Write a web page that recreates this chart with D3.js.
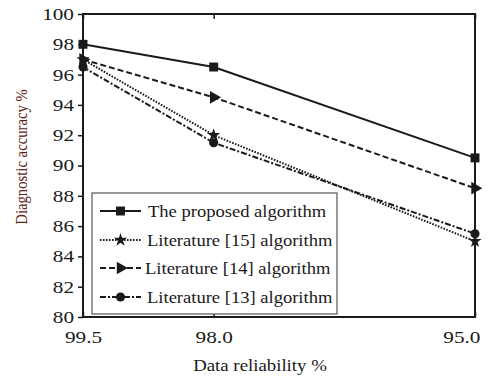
<!DOCTYPE html>
<html>
<head>
<meta charset="utf-8">
<script src="https://cdn.jsdelivr.net/npm/d3@7"></script>
<style>
  body { margin: 0; background: #fff; }
  svg text { font-family: "Liberation Serif", "DejaVu Serif", serif; fill: #1a1a1a; }
</style>
</head>
<body>
<div id="chart"></div>
<script>
const reliability = [99.5, 98.0, 95.0];
const proposed = [98, 96.5, 90.5];
const lit15 = [97, 92, 85];
const lit14 = [97, 94.5, 88.5];
const lit13 = [96.5, 91.5, 85.5];
const yTicks = [80, 82, 84, 86, 88, 90, 92, 94, 96, 98, 100];

const series = [
    { name: "The proposed algorithm", values: proposed, dash: null, symbol: d3.symbolSquare, size: 80, rot: 0, tx: 148 },
    { name: "Literature [15] algorithm", values: lit15, dash: "1.6,1.4", symbol: d3.symbolStar, size: 55, rot: 0, tx: 147 },
    { name: "Literature [14] algorithm", values: lit14, dash: "6,3", symbol: d3.symbolTriangle, size: 70, rot: 90, tx: 145 },
    { name: "Literature [13] algorithm", values: lit13, dash: "6,2,2,2", symbol: d3.symbolCircle, size: 65, rot: 0, tx: 147 }
];

const W = 494, H = 378;
const x0 = 83, x1 = 475, y0 = 317, y1 = 14;
// the reference picture is stretched sideways, so text is widened to match
const stretch = 1.2;

const svg = d3.select("#chart").append("svg")
    .attr("width", W)
    .attr("height", H);

const xScale = d3.scaleLinear().domain([99.5, 95.0]).range([x0, x1]);
const yScale = d3.scaleLinear().domain([80, 100]).range([y0, y1]);

// frame
svg.append("rect")
    .attr("x", x0).attr("y", y1)
    .attr("width", x1 - x0).attr("height", y0 - y1)
    .attr("fill", "none").attr("stroke", "#1a1a1a").attr("stroke-width", 2);

// y axis, ticks outward
const yAxis = svg.append("g")
    .attr("transform", `translate(${x0},0)`)
    .call(d3.axisLeft(yScale).tickValues(yTicks).tickSize(5).tickFormat(d3.format("d")));
yAxis.select(".domain").remove();
yAxis.selectAll("line").attr("stroke", "#1a1a1a").attr("stroke-width", 1.5);
yAxis.selectAll("text")
    .attr("x", 0)
    .attr("transform", `translate(-9,0) scale(1.25,1)`)
    .style("font-size", "17px").attr("fill", "#1a1a1a").style("font-family", "Liberation Serif");

// x axis bottom, ticks inward
const xAxis = svg.append("g")
    .attr("transform", `translate(0,${y0})`)
    .call(d3.axisBottom(xScale).tickValues(reliability).tickSize(-5).tickPadding(14).tickFormat(d3.format(".1f")));
xAxis.select(".domain").remove();
xAxis.selectAll("line").attr("stroke", "#1a1a1a").attr("stroke-width", 1.5);
xAxis.selectAll("text")
    .attr("transform", "scale(1.25,1)")
    .style("font-size", "17px").attr("fill", "#1a1a1a").style("font-family", "Liberation Serif");
xAxis.selectAll(".tick").filter(d => d === 95.0).select("text")
    .attr("text-anchor", "end").attr("x", 4);

// x axis top, ticks inward, no labels
const xTop = svg.append("g")
    .attr("transform", `translate(0,${y1})`)
    .call(d3.axisTop(xScale).tickValues(reliability).tickSize(-5).tickFormat(""));
xTop.select(".domain").remove();
xTop.selectAll("line").attr("stroke", "#1a1a1a").attr("stroke-width", 1.5);

// lines
const line = d3.line()
    .x((d, i) => xScale(reliability[i]))
    .y(d => yScale(d));

series.forEach(s => {
    svg.append("path")
        .datum(s.values)
        .attr("d", line)
        .attr("fill", "none")
        .attr("stroke", "#1a1a1a")
        .attr("stroke-width", 2)
        .attr("stroke-dasharray", s.dash);
});

series.forEach(s => {
    svg.selectAll(null)
        .data(s.values)
        .enter()
        .append("path")
        .attr("d", d3.symbol().type(s.symbol).size(s.size))
        .attr("transform", (d, i) => `translate(${xScale(reliability[i])},${yScale(d)}) rotate(${s.rot})`)
        .attr("fill", "#1a1a1a");
});

// legend
const legend = svg.append("g");
legend.append("rect")
    .attr("x", 92).attr("y", 193)
    .attr("width", 245).attr("height", 121)
    .attr("fill", "#fff").attr("stroke", "#555").attr("stroke-width", 1.2);

const rowY = [211, 240, 268, 297];
series.forEach((s, i) => {
    const g = legend.append("g").attr("transform", `translate(0,${rowY[i]})`);
    g.append("line")
        .attr("x1", 100).attr("x2", 141)
        .attr("stroke", "#1a1a1a").attr("stroke-width", 2)
        .attr("stroke-dasharray", s.dash);
    g.append("path")
        .attr("d", d3.symbol().type(s.symbol).size(s.size))
        .attr("transform", `translate(120.5,0) rotate(${s.rot})`)
        .attr("fill", "#1a1a1a");
    g.append("text")
        .attr("transform", `translate(${s.tx},5.5) scale(1.16,1)`)
        .style("font-size", "16px")
        .text(s.name);
});

// axis titles
svg.append("text")
    .attr("transform", `translate(260,371) scale(${stretch * 0.98},1)`)
    .attr("text-anchor", "middle")
    .style("font-size", "16px")
    .text("Data reliability %");

svg.append("text")
    .attr("transform", `translate(27,157) rotate(-90) scale(1,${stretch})`)
    .attr("text-anchor", "middle")
    .style("font-size", "14.7px")
    .style("fill", "#5a2414")
    .text("Diagnostic accuracy %");
</script>
</body>
</html>
